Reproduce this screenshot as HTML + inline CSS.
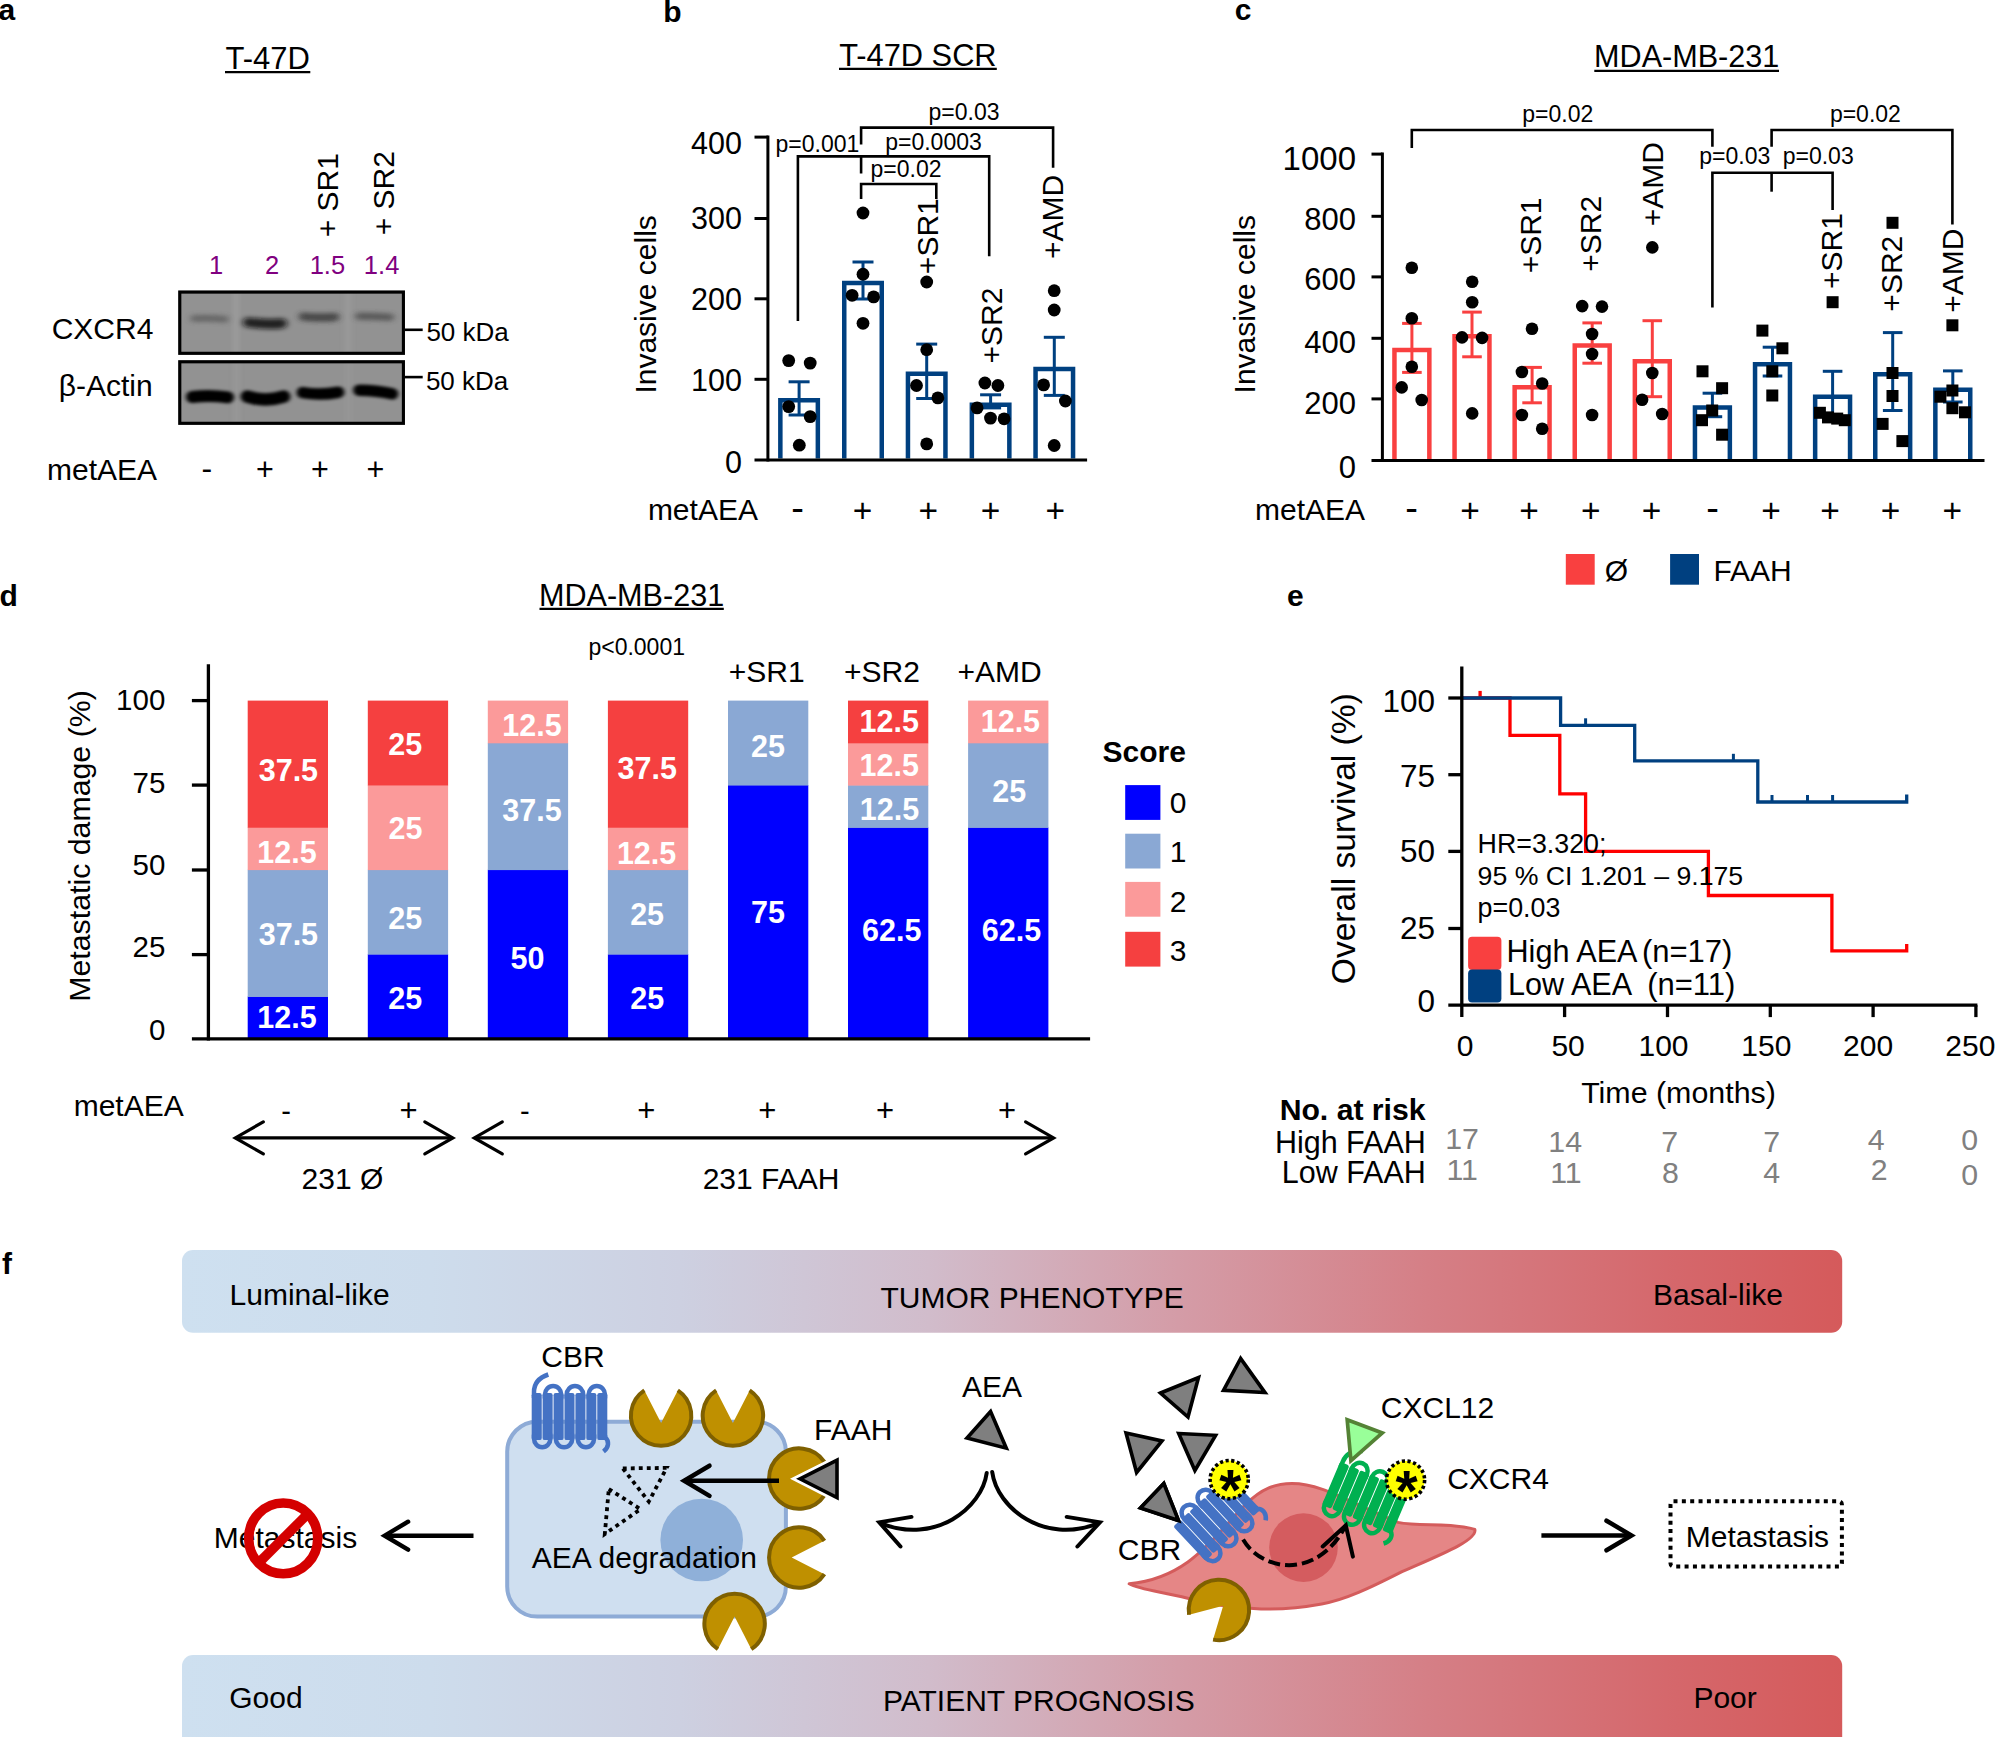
<!DOCTYPE html>
<html lang="en"><head><meta charset="utf-8"><title>Figure</title>
<style>html,body{margin:0;padding:0;background:#fff}svg{display:block}text{font-family:"Liberation Sans",Arial,Helvetica,sans-serif}</style>
</head><body>
<svg width="1995" height="1737" viewBox="0 0 1995 1737">
<defs>
<filter id="bl2" filterUnits="userSpaceOnUse" x="170" y="285" width="250" height="150"><feGaussianBlur stdDeviation="3 2"/></filter>
<filter id="bl3" filterUnits="userSpaceOnUse" x="170" y="285" width="250" height="150"><feGaussianBlur stdDeviation="2.2 1.7"/></filter>
<clipPath id="cb1"><rect x="178.2" y="290.5" width="226.8" height="64.3"/></clipPath><clipPath id="cb2"><rect x="178.2" y="360.2" width="226.8" height="64.6"/></clipPath>
<linearGradient id="gr" x1="0" y1="0" x2="1" y2="0"><stop offset="0" stop-color="#cee0f0"/><stop offset="0.15" stop-color="#cddcec"/><stop offset="0.3" stop-color="#cdd0e1"/><stop offset="0.45" stop-color="#d1bccb"/><stop offset="0.6" stop-color="#d49ca7"/><stop offset="0.75" stop-color="#d57f86"/><stop offset="0.9" stop-color="#d5676b"/><stop offset="1" stop-color="#d55a5b"/></linearGradient>
</defs>
<rect width="1995" height="1737" fill="#fff"/>
<g id="panel-a">
<text x="-1.5" y="20.2" text-anchor="start" font-size="30" font-weight="bold" fill="#000" >a</text>
<text x="267.7" y="69.3" text-anchor="middle" font-size="31" fill="#000" >T-47D</text>
<line x1="225.0" y1="72.1" x2="310.3" y2="72.1" stroke="#000" stroke-width="2.2" stroke-linecap="butt" />
<text transform="translate(337.5,195.2) rotate(-90)" text-anchor="middle" font-size="30" fill="#000" >+ SR1</text>
<text transform="translate(394.2,193.2) rotate(-90)" text-anchor="middle" font-size="30" fill="#000" >+ SR2</text>
<text x="216.0" y="274.0" text-anchor="middle" font-size="25.5" fill="#800080" >1</text>
<text x="272.0" y="274.0" text-anchor="middle" font-size="25.5" fill="#800080" >2</text>
<text x="327.4" y="274.0" text-anchor="middle" font-size="25.5" fill="#800080" >1.5</text>
<text x="381.6" y="274.0" text-anchor="middle" font-size="25.5" fill="#800080" >1.4</text>
<rect x="178.2" y="290.5" width="226.8" height="64.3" fill="#929292" stroke="none" stroke-width="0" rx="0" />
<g clip-path="url(#cb1)">
<rect x="232" y="290.5" width="8" height="64.30000000000001" fill="#a2a2a2" opacity="0.5" filter="url(#bl3)"/>
<rect x="344" y="290.5" width="8" height="64.30000000000001" fill="#a2a2a2" opacity="0.4" filter="url(#bl3)"/>
<path d="M194,318.6 Q209,317.8 225,319.2" fill="none" stroke="#404040" stroke-width="7" stroke-linecap="round" opacity="0.5" filter="url(#bl2)"/>
<path d="M248,322.4 Q266,324.8 282,323.4" fill="none" stroke="#101010" stroke-width="10" stroke-linecap="round" opacity="0.85" filter="url(#bl2)"/>
<path d="M303,316.6 Q319,318.4 335,317" fill="none" stroke="#282828" stroke-width="8.5" stroke-linecap="round" opacity="0.68" filter="url(#bl2)"/>
<path d="M359,316.2 Q375,316.2 390,317.2" fill="none" stroke="#333" stroke-width="7.5" stroke-linecap="round" opacity="0.56" filter="url(#bl2)"/>
</g>
<rect x="179.8" y="292.1" width="223.6" height="61.2" fill="none" stroke="#000" stroke-width="3.1" rx="0" />
<rect x="178.2" y="360.2" width="226.8" height="64.6" fill="#929292" stroke="none" stroke-width="0" rx="0" />
<g clip-path="url(#cb2)">
<rect x="233" y="360.2" width="7" height="64.60000000000002" fill="#a2a2a2" opacity="0.35" filter="url(#bl3)"/>
<rect x="345" y="360.2" width="7" height="64.60000000000002" fill="#a2a2a2" opacity="0.3" filter="url(#bl3)"/>
<path d="M192,397 Q210,394.6 228,397.4" fill="none" stroke="#000" stroke-width="12" stroke-linecap="round" opacity="1" filter="url(#bl3)"/>
<path d="M247,396.5 Q265,402.4 284,396.5" fill="none" stroke="#000" stroke-width="12.6" stroke-linecap="round" opacity="1" filter="url(#bl3)"/>
<path d="M302.5,392.6 Q320,395.6 338.5,392.2" fill="none" stroke="#000" stroke-width="11.6" stroke-linecap="round" opacity="1" filter="url(#bl3)"/>
<path d="M359,390.2 Q377,390.4 392.5,393.8" fill="none" stroke="#000" stroke-width="11.6" stroke-linecap="round" opacity="1" filter="url(#bl3)"/>
</g>
<rect x="179.8" y="361.8" width="223.6" height="61.5" fill="none" stroke="#000" stroke-width="3.1" rx="0" />
<text x="102.5" y="339.4" text-anchor="middle" font-size="30" fill="#000" >CXCR4</text>
<text x="105.7" y="395.8" text-anchor="middle" font-size="30" fill="#000" >β-Actin</text>
<line x1="405.0" y1="329.8" x2="422.7" y2="329.8" stroke="#000" stroke-width="2.6" stroke-linecap="butt" />
<line x1="405.0" y1="377.1" x2="422.7" y2="377.1" stroke="#000" stroke-width="2.6" stroke-linecap="butt" />
<text x="467.6" y="341.0" text-anchor="middle" font-size="26" fill="#000" >50 kDa</text>
<text x="467.1" y="390.2" text-anchor="middle" font-size="26" fill="#000" >50 kDa</text>
<text x="102.1" y="479.7" text-anchor="middle" font-size="30" fill="#000" >metAEA</text>
<text x="206.8" y="478.6" text-anchor="middle" font-size="32" fill="#000" >-</text>
<text x="265.0" y="480.1" text-anchor="middle" font-size="30.5" fill="#000" >+</text>
<text x="320.0" y="480.1" text-anchor="middle" font-size="30.5" fill="#000" >+</text>
<text x="375.5" y="480.1" text-anchor="middle" font-size="30.5" fill="#000" >+</text>
</g>
<g id="panel-b">
<text x="663.2" y="21.6" text-anchor="start" font-size="30" font-weight="bold" fill="#000" >b</text>
<text x="917.9" y="65.5" text-anchor="middle" font-size="30.8" fill="#000" >T-47D SCR</text>
<line x1="839.0" y1="68.8" x2="996.8" y2="68.8" stroke="#000" stroke-width="2.2" stroke-linecap="butt" />
<text transform="translate(656.0,304.4) rotate(-90)" text-anchor="middle" font-size="30" fill="#000" >Invasive cells</text>
<text x="742.0" y="153.6" text-anchor="end" font-size="30.5" fill="#000" >400</text>
<text x="742.0" y="229.3" text-anchor="end" font-size="30.5" fill="#000" >300</text>
<text x="742.0" y="310.0" text-anchor="end" font-size="30.5" fill="#000" >200</text>
<text x="742.0" y="390.8" text-anchor="end" font-size="30.5" fill="#000" >100</text>
<text x="742.0" y="473.2" text-anchor="end" font-size="30.5" fill="#000" >0</text>
<path d="M780.35,458.6 V400.15 H817.85 V458.6" stroke="#004080" stroke-width="4.5" fill="none" />
<path d="M844.25,458.6 V282.95 H881.75 V458.6" stroke="#004080" stroke-width="4.5" fill="none" />
<path d="M907.95,458.6 V373.75 H945.45 V458.6" stroke="#004080" stroke-width="4.5" fill="none" />
<path d="M971.85,458.6 V404.85 H1009.35 V458.6" stroke="#004080" stroke-width="4.5" fill="none" />
<path d="M1035.55,458.6 V369.05 H1073.05 V458.6" stroke="#004080" stroke-width="4.5" fill="none" />
<line x1="799.1" y1="381.8" x2="799.1" y2="415.0" stroke="#004080" stroke-width="3" stroke-linecap="butt" />
<line x1="788.6" y1="381.8" x2="809.6" y2="381.8" stroke="#004080" stroke-width="3" stroke-linecap="butt" />
<line x1="788.6" y1="415.0" x2="809.6" y2="415.0" stroke="#004080" stroke-width="3" stroke-linecap="butt" />
<line x1="863.0" y1="262.0" x2="863.0" y2="299.0" stroke="#004080" stroke-width="3" stroke-linecap="butt" />
<line x1="852.5" y1="262.0" x2="873.5" y2="262.0" stroke="#004080" stroke-width="3" stroke-linecap="butt" />
<line x1="852.5" y1="299.0" x2="873.5" y2="299.0" stroke="#004080" stroke-width="3" stroke-linecap="butt" />
<line x1="926.7" y1="344.1" x2="926.7" y2="398.5" stroke="#004080" stroke-width="3" stroke-linecap="butt" />
<line x1="916.2" y1="344.1" x2="937.2" y2="344.1" stroke="#004080" stroke-width="3" stroke-linecap="butt" />
<line x1="916.2" y1="398.5" x2="937.2" y2="398.5" stroke="#004080" stroke-width="3" stroke-linecap="butt" />
<line x1="990.6" y1="394.8" x2="990.6" y2="407.9" stroke="#004080" stroke-width="3" stroke-linecap="butt" />
<line x1="980.1" y1="394.8" x2="1001.1" y2="394.8" stroke="#004080" stroke-width="3" stroke-linecap="butt" />
<line x1="980.1" y1="407.9" x2="1001.1" y2="407.9" stroke="#004080" stroke-width="3" stroke-linecap="butt" />
<line x1="1054.3" y1="337.3" x2="1054.3" y2="395.4" stroke="#004080" stroke-width="3" stroke-linecap="butt" />
<line x1="1043.8" y1="337.3" x2="1064.8" y2="337.3" stroke="#004080" stroke-width="3" stroke-linecap="butt" />
<line x1="1043.8" y1="395.4" x2="1064.8" y2="395.4" stroke="#004080" stroke-width="3" stroke-linecap="butt" />
<line x1="767.9" y1="135.6" x2="767.9" y2="461.5" stroke="#000" stroke-width="3" stroke-linecap="butt" />
<line x1="754.5" y1="460.0" x2="1087.1" y2="460.0" stroke="#000" stroke-width="3" stroke-linecap="butt" />
<line x1="754.5" y1="137.1" x2="767.9" y2="137.1" stroke="#000" stroke-width="3" stroke-linecap="butt" />
<line x1="754.5" y1="218.5" x2="767.9" y2="218.5" stroke="#000" stroke-width="3" stroke-linecap="butt" />
<line x1="754.5" y1="298.8" x2="767.9" y2="298.8" stroke="#000" stroke-width="3" stroke-linecap="butt" />
<line x1="754.5" y1="379.3" x2="767.9" y2="379.3" stroke="#000" stroke-width="3" stroke-linecap="butt" />
<circle cx="788.7" cy="360.6" r="6.4" fill="#000" stroke="none" stroke-width="0" />
<circle cx="810.2" cy="363.1" r="6.4" fill="#000" stroke="none" stroke-width="0" />
<circle cx="788.7" cy="406.6" r="6.4" fill="#000" stroke="none" stroke-width="0" />
<circle cx="810.2" cy="416.6" r="6.4" fill="#000" stroke="none" stroke-width="0" />
<circle cx="799.3" cy="445.2" r="6.4" fill="#000" stroke="none" stroke-width="0" />
<circle cx="863.0" cy="213.0" r="6.4" fill="#000" stroke="none" stroke-width="0" />
<circle cx="863.0" cy="274.2" r="6.4" fill="#000" stroke="none" stroke-width="0" />
<circle cx="852.1" cy="295.3" r="6.4" fill="#000" stroke="none" stroke-width="0" />
<circle cx="873.6" cy="296.9" r="6.4" fill="#000" stroke="none" stroke-width="0" />
<circle cx="863.0" cy="323.3" r="6.4" fill="#000" stroke="none" stroke-width="0" />
<circle cx="926.7" cy="282.0" r="6.4" fill="#000" stroke="none" stroke-width="0" />
<circle cx="926.7" cy="349.7" r="6.4" fill="#000" stroke="none" stroke-width="0" />
<circle cx="916.5" cy="385.5" r="6.4" fill="#000" stroke="none" stroke-width="0" />
<circle cx="937.9" cy="397.9" r="6.4" fill="#000" stroke="none" stroke-width="0" />
<circle cx="926.7" cy="443.9" r="6.4" fill="#000" stroke="none" stroke-width="0" />
<circle cx="984.9" cy="383.0" r="6.4" fill="#000" stroke="none" stroke-width="0" />
<circle cx="997.9" cy="385.5" r="6.4" fill="#000" stroke="none" stroke-width="0" />
<circle cx="977.1" cy="407.9" r="6.4" fill="#000" stroke="none" stroke-width="0" />
<circle cx="990.5" cy="418.1" r="6.4" fill="#000" stroke="none" stroke-width="0" />
<circle cx="1004.1" cy="418.8" r="6.4" fill="#000" stroke="none" stroke-width="0" />
<circle cx="1054.2" cy="290.7" r="6.4" fill="#000" stroke="none" stroke-width="0" />
<circle cx="1054.2" cy="310.0" r="6.4" fill="#000" stroke="none" stroke-width="0" />
<circle cx="1043.6" cy="384.9" r="6.4" fill="#000" stroke="none" stroke-width="0" />
<circle cx="1065.4" cy="401.0" r="6.4" fill="#000" stroke="none" stroke-width="0" />
<circle cx="1054.2" cy="445.5" r="6.4" fill="#000" stroke="none" stroke-width="0" />
<path d="M861.1,144.6 V127.6 H1053.1 V167.7" stroke="#000" stroke-width="2.6" fill="none" />
<path d="M797.9,321 V156.4 H989.2 V256.2" stroke="#000" stroke-width="2.6" fill="none" />
<path d="M861.1,156.4 V173.5" stroke="#000" stroke-width="2.6" fill="none" />
<path d="M861.1,199 V184 H936.3 V199" stroke="#000" stroke-width="2.6" fill="none" />
<text x="964.0" y="119.6" text-anchor="middle" font-size="23" fill="#000" >p=0.03</text>
<text x="817.4" y="152.2" text-anchor="middle" font-size="23" fill="#000" >p=0.001</text>
<text x="933.5" y="149.6" text-anchor="middle" font-size="23" fill="#000" >p=0.0003</text>
<text x="906.0" y="176.5" text-anchor="middle" font-size="23" fill="#000" >p=0.02</text>
<text transform="translate(938.3,236.2) rotate(-90)" text-anchor="middle" font-size="30" fill="#000" >+SR1</text>
<text transform="translate(1001.5,325.6) rotate(-90)" text-anchor="middle" font-size="30" fill="#000" >+SR2</text>
<text transform="translate(1063.1,216.9) rotate(-90)" text-anchor="middle" font-size="30" fill="#000" >+AMD</text>
<text x="702.9" y="519.8" text-anchor="middle" font-size="30" fill="#000" >metAEA</text>
<text x="797.5" y="520.6" text-anchor="middle" font-size="38" fill="#000" >-</text>
<text x="862.5" y="521.7" text-anchor="middle" font-size="33.5" fill="#000" >+</text>
<text x="928.3" y="521.7" text-anchor="middle" font-size="33.5" fill="#000" >+</text>
<text x="990.6" y="521.7" text-anchor="middle" font-size="33.5" fill="#000" >+</text>
<text x="1055.2" y="521.7" text-anchor="middle" font-size="33.5" fill="#000" >+</text>
</g>
<g id="panel-c">
<text x="1234.7" y="20.0" text-anchor="start" font-size="30" font-weight="bold" fill="#000" >c</text>
<text x="1686.7" y="67.2" text-anchor="middle" font-size="30.6" fill="#000" >MDA-MB-231</text>
<line x1="1594.3" y1="70.9" x2="1779.0" y2="70.9" stroke="#000" stroke-width="2.2" stroke-linecap="butt" />
<text transform="translate(1255.3,304.2) rotate(-90)" text-anchor="middle" font-size="30" fill="#000" >Invasive cells</text>
<text x="1356.0" y="170.1" text-anchor="end" font-size="33" fill="#000" >1000</text>
<text x="1356.0" y="230.2" text-anchor="end" font-size="31" fill="#000" >800</text>
<text x="1356.0" y="289.6" text-anchor="end" font-size="31" fill="#000" >600</text>
<text x="1356.0" y="352.8" text-anchor="end" font-size="31" fill="#000" >400</text>
<text x="1356.0" y="414.0" text-anchor="end" font-size="31" fill="#000" >200</text>
<text x="1356.0" y="477.6" text-anchor="end" font-size="31" fill="#000" >0</text>
<path d="M1394.45,459.0 V350.05 H1429.35 V459.0" stroke="#f94040" stroke-width="4.5" fill="none" />
<path d="M1454.55,459.0 V336.25 H1489.45 V459.0" stroke="#f94040" stroke-width="4.5" fill="none" />
<path d="M1514.65,459.0 V387.35 H1549.55 V459.0" stroke="#f94040" stroke-width="4.5" fill="none" />
<path d="M1574.75,459.0 V345.45 H1609.65 V459.0" stroke="#f94040" stroke-width="4.5" fill="none" />
<path d="M1634.85,459.0 V361.35 H1669.75 V459.0" stroke="#f94040" stroke-width="4.5" fill="none" />
<path d="M1694.95,459.0 V407.45 H1729.85 V459.0" stroke="#004080" stroke-width="4.5" fill="none" />
<path d="M1755.05,459.0 V364.35 H1789.95 V459.0" stroke="#004080" stroke-width="4.5" fill="none" />
<path d="M1815.15,459.0 V396.65 H1850.05 V459.0" stroke="#004080" stroke-width="4.5" fill="none" />
<path d="M1875.25,459.0 V374.25 H1910.15 V459.0" stroke="#004080" stroke-width="4.5" fill="none" />
<path d="M1935.35,459.0 V389.75 H1970.25 V459.0" stroke="#004080" stroke-width="4.5" fill="none" />
<line x1="1411.9" y1="323.4" x2="1411.9" y2="372.4" stroke="#f94040" stroke-width="3" stroke-linecap="butt" />
<line x1="1402.1" y1="323.4" x2="1421.7" y2="323.4" stroke="#f94040" stroke-width="3" stroke-linecap="butt" />
<line x1="1402.1" y1="372.4" x2="1421.7" y2="372.4" stroke="#f94040" stroke-width="3" stroke-linecap="butt" />
<line x1="1472.0" y1="312.1" x2="1472.0" y2="356.8" stroke="#f94040" stroke-width="3" stroke-linecap="butt" />
<line x1="1462.2" y1="312.1" x2="1481.8" y2="312.1" stroke="#f94040" stroke-width="3" stroke-linecap="butt" />
<line x1="1462.2" y1="356.8" x2="1481.8" y2="356.8" stroke="#f94040" stroke-width="3" stroke-linecap="butt" />
<line x1="1532.1" y1="367.4" x2="1532.1" y2="402.8" stroke="#f94040" stroke-width="3" stroke-linecap="butt" />
<line x1="1522.3" y1="367.4" x2="1541.9" y2="367.4" stroke="#f94040" stroke-width="3" stroke-linecap="butt" />
<line x1="1522.3" y1="402.8" x2="1541.9" y2="402.8" stroke="#f94040" stroke-width="3" stroke-linecap="butt" />
<line x1="1592.2" y1="322.9" x2="1592.2" y2="363.2" stroke="#f94040" stroke-width="3" stroke-linecap="butt" />
<line x1="1582.4" y1="322.9" x2="1602.0" y2="322.9" stroke="#f94040" stroke-width="3" stroke-linecap="butt" />
<line x1="1582.4" y1="363.2" x2="1602.0" y2="363.2" stroke="#f94040" stroke-width="3" stroke-linecap="butt" />
<line x1="1652.3" y1="320.7" x2="1652.3" y2="396.7" stroke="#f94040" stroke-width="3" stroke-linecap="butt" />
<line x1="1642.5" y1="320.7" x2="1662.1" y2="320.7" stroke="#f94040" stroke-width="3" stroke-linecap="butt" />
<line x1="1642.5" y1="396.7" x2="1662.1" y2="396.7" stroke="#f94040" stroke-width="3" stroke-linecap="butt" />
<line x1="1712.4" y1="393.2" x2="1712.4" y2="416.7" stroke="#004080" stroke-width="3" stroke-linecap="butt" />
<line x1="1702.6" y1="393.2" x2="1722.2" y2="393.2" stroke="#004080" stroke-width="3" stroke-linecap="butt" />
<line x1="1702.6" y1="416.7" x2="1722.2" y2="416.7" stroke="#004080" stroke-width="3" stroke-linecap="butt" />
<line x1="1772.5" y1="347.2" x2="1772.5" y2="376.0" stroke="#004080" stroke-width="3" stroke-linecap="butt" />
<line x1="1762.7" y1="347.2" x2="1782.3" y2="347.2" stroke="#004080" stroke-width="3" stroke-linecap="butt" />
<line x1="1762.7" y1="376.0" x2="1782.3" y2="376.0" stroke="#004080" stroke-width="3" stroke-linecap="butt" />
<line x1="1832.6" y1="371.3" x2="1832.6" y2="416.7" stroke="#004080" stroke-width="3" stroke-linecap="butt" />
<line x1="1822.8" y1="371.3" x2="1842.4" y2="371.3" stroke="#004080" stroke-width="3" stroke-linecap="butt" />
<line x1="1822.8" y1="416.7" x2="1842.4" y2="416.7" stroke="#004080" stroke-width="3" stroke-linecap="butt" />
<line x1="1892.7" y1="332.6" x2="1892.7" y2="410.5" stroke="#004080" stroke-width="3" stroke-linecap="butt" />
<line x1="1882.9" y1="332.6" x2="1902.5" y2="332.6" stroke="#004080" stroke-width="3" stroke-linecap="butt" />
<line x1="1882.9" y1="410.5" x2="1902.5" y2="410.5" stroke="#004080" stroke-width="3" stroke-linecap="butt" />
<line x1="1952.8" y1="370.9" x2="1952.8" y2="402.0" stroke="#004080" stroke-width="3" stroke-linecap="butt" />
<line x1="1943.0" y1="370.9" x2="1962.6" y2="370.9" stroke="#004080" stroke-width="3" stroke-linecap="butt" />
<line x1="1943.0" y1="402.0" x2="1962.6" y2="402.0" stroke="#004080" stroke-width="3" stroke-linecap="butt" />
<line x1="1382.4" y1="152.6" x2="1382.4" y2="461.9" stroke="#000" stroke-width="3" stroke-linecap="butt" />
<line x1="1371.5" y1="460.4" x2="1984.5" y2="460.4" stroke="#000" stroke-width="3" stroke-linecap="butt" />
<line x1="1371.5" y1="154.1" x2="1382.4" y2="154.1" stroke="#000" stroke-width="3" stroke-linecap="butt" />
<line x1="1371.5" y1="216.3" x2="1382.4" y2="216.3" stroke="#000" stroke-width="3" stroke-linecap="butt" />
<line x1="1371.5" y1="276.9" x2="1382.4" y2="276.9" stroke="#000" stroke-width="3" stroke-linecap="butt" />
<line x1="1371.5" y1="338.3" x2="1382.4" y2="338.3" stroke="#000" stroke-width="3" stroke-linecap="butt" />
<line x1="1371.5" y1="398.9" x2="1382.4" y2="398.9" stroke="#000" stroke-width="3" stroke-linecap="butt" />
<circle cx="1411.8" cy="267.7" r="6.3" fill="#000" stroke="none" stroke-width="0" />
<circle cx="1411.8" cy="318.3" r="6.3" fill="#000" stroke="none" stroke-width="0" />
<circle cx="1411.8" cy="366.7" r="6.3" fill="#000" stroke="none" stroke-width="0" />
<circle cx="1401.7" cy="387.4" r="6.3" fill="#000" stroke="none" stroke-width="0" />
<circle cx="1421.7" cy="400.0" r="6.3" fill="#000" stroke="none" stroke-width="0" />
<circle cx="1472.2" cy="281.7" r="6.3" fill="#000" stroke="none" stroke-width="0" />
<circle cx="1472.2" cy="302.2" r="6.3" fill="#000" stroke="none" stroke-width="0" />
<circle cx="1462.0" cy="337.4" r="6.3" fill="#000" stroke="none" stroke-width="0" />
<circle cx="1482.1" cy="337.9" r="6.3" fill="#000" stroke="none" stroke-width="0" />
<circle cx="1472.2" cy="413.4" r="6.3" fill="#000" stroke="none" stroke-width="0" />
<circle cx="1532.0" cy="328.7" r="6.3" fill="#000" stroke="none" stroke-width="0" />
<circle cx="1521.9" cy="372.0" r="6.3" fill="#000" stroke="none" stroke-width="0" />
<circle cx="1542.2" cy="383.5" r="6.3" fill="#000" stroke="none" stroke-width="0" />
<circle cx="1521.9" cy="415.0" r="6.3" fill="#000" stroke="none" stroke-width="0" />
<circle cx="1542.2" cy="428.8" r="6.3" fill="#000" stroke="none" stroke-width="0" />
<circle cx="1582.2" cy="306.1" r="6.3" fill="#000" stroke="none" stroke-width="0" />
<circle cx="1602.0" cy="306.6" r="6.3" fill="#000" stroke="none" stroke-width="0" />
<circle cx="1592.1" cy="334.0" r="6.3" fill="#000" stroke="none" stroke-width="0" />
<circle cx="1592.1" cy="354.0" r="6.3" fill="#000" stroke="none" stroke-width="0" />
<circle cx="1592.1" cy="415.0" r="6.3" fill="#000" stroke="none" stroke-width="0" />
<circle cx="1652.3" cy="247.4" r="6.3" fill="#000" stroke="none" stroke-width="0" />
<circle cx="1652.3" cy="373.0" r="6.3" fill="#000" stroke="none" stroke-width="0" />
<circle cx="1642.1" cy="399.7" r="6.3" fill="#000" stroke="none" stroke-width="0" />
<circle cx="1662.2" cy="414.0" r="6.3" fill="#000" stroke="none" stroke-width="0" />
<rect x="1696.5" y="365.3" width="12.0" height="12.0" fill="#000" stroke="none" stroke-width="0" rx="0" />
<rect x="1716.1" y="382.2" width="12.0" height="12.0" fill="#000" stroke="none" stroke-width="0" rx="0" />
<rect x="1706.2" y="404.5" width="12.0" height="12.0" fill="#000" stroke="none" stroke-width="0" rx="0" />
<rect x="1696.0" y="414.2" width="12.0" height="12.0" fill="#000" stroke="none" stroke-width="0" rx="0" />
<rect x="1716.1" y="428.7" width="12.0" height="12.0" fill="#000" stroke="none" stroke-width="0" rx="0" />
<rect x="1756.4" y="324.6" width="12.0" height="12.0" fill="#000" stroke="none" stroke-width="0" rx="0" />
<rect x="1776.4" y="342.3" width="12.0" height="12.0" fill="#000" stroke="none" stroke-width="0" rx="0" />
<rect x="1766.3" y="365.3" width="12.0" height="12.0" fill="#000" stroke="none" stroke-width="0" rx="0" />
<rect x="1766.3" y="389.5" width="12.0" height="12.0" fill="#000" stroke="none" stroke-width="0" rx="0" />
<rect x="1826.6" y="296.2" width="12.0" height="12.0" fill="#000" stroke="none" stroke-width="0" rx="0" />
<rect x="1813.9" y="406.8" width="12.0" height="12.0" fill="#000" stroke="none" stroke-width="0" rx="0" />
<rect x="1822.0" y="411.4" width="12.0" height="12.0" fill="#000" stroke="none" stroke-width="0" rx="0" />
<rect x="1831.2" y="412.6" width="12.0" height="12.0" fill="#000" stroke="none" stroke-width="0" rx="0" />
<rect x="1838.8" y="414.2" width="12.0" height="12.0" fill="#000" stroke="none" stroke-width="0" rx="0" />
<rect x="1886.5" y="216.8" width="12.0" height="12.0" fill="#000" stroke="none" stroke-width="0" rx="0" />
<rect x="1886.5" y="367.0" width="12.0" height="12.0" fill="#000" stroke="none" stroke-width="0" rx="0" />
<rect x="1886.5" y="390.0" width="12.0" height="12.0" fill="#000" stroke="none" stroke-width="0" rx="0" />
<rect x="1876.6" y="417.9" width="12.0" height="12.0" fill="#000" stroke="none" stroke-width="0" rx="0" />
<rect x="1896.4" y="435.1" width="12.0" height="12.0" fill="#000" stroke="none" stroke-width="0" rx="0" />
<rect x="1946.4" y="319.3" width="12.0" height="12.0" fill="#000" stroke="none" stroke-width="0" rx="0" />
<rect x="1946.4" y="384.5" width="12.0" height="12.0" fill="#000" stroke="none" stroke-width="0" rx="0" />
<rect x="1934.4" y="390.7" width="12.0" height="12.0" fill="#000" stroke="none" stroke-width="0" rx="0" />
<rect x="1946.4" y="402.2" width="12.0" height="12.0" fill="#000" stroke="none" stroke-width="0" rx="0" />
<rect x="1959.0" y="406.3" width="12.0" height="12.0" fill="#000" stroke="none" stroke-width="0" rx="0" />
<path d="M1411.8,147.9 V130 H1712.4 V146.8" stroke="#000" stroke-width="2.6" fill="none" />
<path d="M1771.6,146.8 V130 H1952.4 V224.6" stroke="#000" stroke-width="2.6" fill="none" />
<path d="M1712.4,307.5 V172.8 H1832.6 V210.1" stroke="#000" stroke-width="2.6" fill="none" />
<path d="M1771.6,172.8 V191.7" stroke="#000" stroke-width="2.6" fill="none" />
<text x="1557.8" y="121.6" text-anchor="middle" font-size="23" fill="#000" >p=0.02</text>
<text x="1865.4" y="121.8" text-anchor="middle" font-size="23" fill="#000" >p=0.02</text>
<text x="1734.8" y="164.3" text-anchor="middle" font-size="23" fill="#000" >p=0.03</text>
<text x="1818.2" y="164.3" text-anchor="middle" font-size="23" fill="#000" >p=0.03</text>
<text transform="translate(1540.8,235.4) rotate(-90)" text-anchor="middle" font-size="30" fill="#000" >+SR1</text>
<text transform="translate(1601.1,233.8) rotate(-90)" text-anchor="middle" font-size="30" fill="#000" >+SR2</text>
<text transform="translate(1662.6,184.2) rotate(-90)" text-anchor="middle" font-size="30" fill="#000" >+AMD</text>
<text transform="translate(1841.8,251.0) rotate(-90)" text-anchor="middle" font-size="30" fill="#000" >+SR1</text>
<text transform="translate(1902.2,273.7) rotate(-90)" text-anchor="middle" font-size="30" fill="#000" >+SR2</text>
<text transform="translate(1962.7,270.6) rotate(-90)" text-anchor="middle" font-size="30" fill="#000" >+AMD</text>
<text x="1310.0" y="520.1" text-anchor="middle" font-size="30" fill="#000" >metAEA</text>
<text x="1411.5" y="521.2" text-anchor="middle" font-size="38" fill="#000" >-</text>
<text x="1470.1" y="521.6" text-anchor="middle" font-size="33.5" fill="#000" >+</text>
<text x="1529.1" y="521.6" text-anchor="middle" font-size="33.5" fill="#000" >+</text>
<text x="1590.9" y="521.6" text-anchor="middle" font-size="33.5" fill="#000" >+</text>
<text x="1651.5" y="521.6" text-anchor="middle" font-size="33.5" fill="#000" >+</text>
<text x="1712.5" y="521.2" text-anchor="middle" font-size="38" fill="#000" >-</text>
<text x="1771.0" y="521.6" text-anchor="middle" font-size="33.5" fill="#000" >+</text>
<text x="1830.0" y="521.6" text-anchor="middle" font-size="33.5" fill="#000" >+</text>
<text x="1890.6" y="521.6" text-anchor="middle" font-size="33.5" fill="#000" >+</text>
<text x="1952.4" y="521.6" text-anchor="middle" font-size="33.5" fill="#000" >+</text>
<rect x="1565.8" y="554.0" width="28.9" height="30.7" fill="#f94040" stroke="none" stroke-width="0" rx="0" />
<rect x="1670.1" y="554.0" width="28.9" height="30.7" fill="#004080" stroke="none" stroke-width="0" rx="0" />
<text x="1616.3" y="580.7" text-anchor="middle" font-size="30" fill="#000" >Ø</text>
<text x="1752.6" y="580.8" text-anchor="middle" font-size="30" fill="#000" >FAAH</text>
</g>
<g id="panel-d">
<text x="-0.5" y="605.5" text-anchor="start" font-size="30" font-weight="bold" fill="#000" >d</text>
<text x="631.6" y="605.6" text-anchor="middle" font-size="30.6" fill="#000" >MDA-MB-231</text>
<line x1="539.5" y1="608.9" x2="723.8" y2="608.9" stroke="#000" stroke-width="2.2" stroke-linecap="butt" />
<text x="636.7" y="655.3" text-anchor="middle" font-size="23" fill="#000" >p&lt;0.0001</text>
<text transform="translate(89.8,846.0) rotate(-90)" text-anchor="middle" font-size="30.3" fill="#000" >Metastatic damage (%)</text>
<rect x="247.7" y="996.5" width="80.3" height="42.7" fill="#0000ff" stroke="none" stroke-width="0" rx="0" />
<rect x="247.7" y="869.7" width="80.3" height="127.2" fill="#8aa8d4" stroke="none" stroke-width="0" rx="0" />
<rect x="247.7" y="827.4" width="80.3" height="42.7" fill="#fb9a9a" stroke="none" stroke-width="0" rx="0" />
<rect x="247.7" y="700.6" width="80.3" height="127.2" fill="#f54040" stroke="none" stroke-width="0" rx="0" />
<rect x="367.8" y="954.2" width="80.3" height="84.9" fill="#0000ff" stroke="none" stroke-width="0" rx="0" />
<rect x="367.8" y="869.7" width="80.3" height="84.9" fill="#8aa8d4" stroke="none" stroke-width="0" rx="0" />
<rect x="367.8" y="785.1" width="80.3" height="85.0" fill="#fb9a9a" stroke="none" stroke-width="0" rx="0" />
<rect x="367.8" y="700.6" width="80.3" height="84.9" fill="#f54040" stroke="none" stroke-width="0" rx="0" />
<rect x="487.8" y="869.7" width="80.3" height="169.5" fill="#0000ff" stroke="none" stroke-width="0" rx="0" />
<rect x="487.8" y="742.9" width="80.3" height="127.2" fill="#8aa8d4" stroke="none" stroke-width="0" rx="0" />
<rect x="487.8" y="700.6" width="80.3" height="42.7" fill="#fb9a9a" stroke="none" stroke-width="0" rx="0" />
<rect x="607.9" y="954.2" width="80.3" height="84.9" fill="#0000ff" stroke="none" stroke-width="0" rx="0" />
<rect x="607.9" y="869.7" width="80.3" height="84.9" fill="#8aa8d4" stroke="none" stroke-width="0" rx="0" />
<rect x="607.9" y="827.4" width="80.3" height="42.7" fill="#fb9a9a" stroke="none" stroke-width="0" rx="0" />
<rect x="607.9" y="700.6" width="80.3" height="127.2" fill="#f54040" stroke="none" stroke-width="0" rx="0" />
<rect x="728.0" y="785.1" width="80.3" height="254.0" fill="#0000ff" stroke="none" stroke-width="0" rx="0" />
<rect x="728.0" y="700.6" width="80.3" height="84.9" fill="#8aa8d4" stroke="none" stroke-width="0" rx="0" />
<rect x="848.0" y="827.4" width="80.3" height="211.8" fill="#0000ff" stroke="none" stroke-width="0" rx="0" />
<rect x="848.0" y="785.1" width="80.3" height="42.7" fill="#8aa8d4" stroke="none" stroke-width="0" rx="0" />
<rect x="848.0" y="742.9" width="80.3" height="42.7" fill="#fb9a9a" stroke="none" stroke-width="0" rx="0" />
<rect x="848.0" y="700.6" width="80.3" height="42.7" fill="#f54040" stroke="none" stroke-width="0" rx="0" />
<rect x="968.1" y="827.4" width="80.3" height="211.8" fill="#0000ff" stroke="none" stroke-width="0" rx="0" />
<rect x="968.1" y="742.9" width="80.3" height="84.9" fill="#8aa8d4" stroke="none" stroke-width="0" rx="0" />
<rect x="968.1" y="700.6" width="80.3" height="42.7" fill="#fb9a9a" stroke="none" stroke-width="0" rx="0" />
<line x1="208.4" y1="664.2" x2="208.4" y2="1040.4" stroke="#000" stroke-width="3.3" stroke-linecap="butt" />
<line x1="191.9" y1="1038.8" x2="1090.1" y2="1038.8" stroke="#000" stroke-width="3.3" stroke-linecap="butt" />
<line x1="191.9" y1="700.6" x2="208.4" y2="700.6" stroke="#000" stroke-width="3.3" stroke-linecap="butt" />
<line x1="191.9" y1="785.1" x2="208.4" y2="785.1" stroke="#000" stroke-width="3.3" stroke-linecap="butt" />
<line x1="191.9" y1="870.0" x2="208.4" y2="870.0" stroke="#000" stroke-width="3.3" stroke-linecap="butt" />
<line x1="191.9" y1="954.6" x2="208.4" y2="954.6" stroke="#000" stroke-width="3.3" stroke-linecap="butt" />
<text x="165.3" y="709.5" text-anchor="end" font-size="29.5" fill="#000" >100</text>
<text x="165.3" y="793.3" text-anchor="end" font-size="29.5" fill="#000" >75</text>
<text x="165.3" y="874.9" text-anchor="end" font-size="29.5" fill="#000" >50</text>
<text x="165.3" y="957.2" text-anchor="end" font-size="29.5" fill="#000" >25</text>
<text x="165.3" y="1039.5" text-anchor="end" font-size="29.5" fill="#000" >0</text>
<text x="288.4" y="780.5" text-anchor="middle" font-size="30.5" font-weight="bold" fill="#fff" >37.5</text>
<text x="287.0" y="862.8" text-anchor="middle" font-size="30.5" font-weight="bold" fill="#fff" >12.5</text>
<text x="288.4" y="945.1" text-anchor="middle" font-size="30.5" font-weight="bold" fill="#fff" >37.5</text>
<text x="287.0" y="1028.2" text-anchor="middle" font-size="30.5" font-weight="bold" fill="#fff" >12.5</text>
<text x="405.2" y="755.4" text-anchor="middle" font-size="30.5" font-weight="bold" fill="#fff" >25</text>
<text x="405.4" y="839.2" text-anchor="middle" font-size="30.5" font-weight="bold" fill="#fff" >25</text>
<text x="405.2" y="929.0" text-anchor="middle" font-size="30.5" font-weight="bold" fill="#fff" >25</text>
<text x="405.2" y="1008.7" text-anchor="middle" font-size="30.5" font-weight="bold" fill="#fff" >25</text>
<text x="532.0" y="735.6" text-anchor="middle" font-size="30.5" font-weight="bold" fill="#fff" >12.5</text>
<text x="532.0" y="820.5" text-anchor="middle" font-size="30.5" font-weight="bold" fill="#fff" >37.5</text>
<text x="527.5" y="968.7" text-anchor="middle" font-size="30.5" font-weight="bold" fill="#fff" >50</text>
<text x="647.3" y="778.6" text-anchor="middle" font-size="30.5" font-weight="bold" fill="#fff" >37.5</text>
<text x="646.6" y="863.6" text-anchor="middle" font-size="30.5" font-weight="bold" fill="#fff" >12.5</text>
<text x="647.1" y="925.3" text-anchor="middle" font-size="30.5" font-weight="bold" fill="#fff" >25</text>
<text x="647.3" y="1008.7" text-anchor="middle" font-size="30.5" font-weight="bold" fill="#fff" >25</text>
<text x="768.0" y="757.3" text-anchor="middle" font-size="30.5" font-weight="bold" fill="#fff" >25</text>
<text x="768.0" y="922.7" text-anchor="middle" font-size="30.5" font-weight="bold" fill="#fff" >75</text>
<text x="889.2" y="731.9" text-anchor="middle" font-size="30.5" font-weight="bold" fill="#fff" >12.5</text>
<text x="889.2" y="776.0" text-anchor="middle" font-size="30.5" font-weight="bold" fill="#fff" >12.5</text>
<text x="889.5" y="819.8" text-anchor="middle" font-size="30.5" font-weight="bold" fill="#fff" >12.5</text>
<text x="891.8" y="940.6" text-anchor="middle" font-size="30.5" font-weight="bold" fill="#fff" >62.5</text>
<text x="1010.4" y="731.9" text-anchor="middle" font-size="30.5" font-weight="bold" fill="#fff" >12.5</text>
<text x="1009.3" y="802.2" text-anchor="middle" font-size="30.5" font-weight="bold" fill="#fff" >25</text>
<text x="1011.5" y="940.6" text-anchor="middle" font-size="30.5" font-weight="bold" fill="#fff" >62.5</text>
<text x="766.7" y="681.5" text-anchor="middle" font-size="30" fill="#000" >+SR1</text>
<text x="882.0" y="681.5" text-anchor="middle" font-size="30" fill="#000" >+SR2</text>
<text x="999.5" y="681.5" text-anchor="middle" font-size="30" fill="#000" >+AMD</text>
<text x="1144.3" y="761.9" text-anchor="middle" font-size="30" font-weight="bold" fill="#000" >Score</text>
<rect x="1125.2" y="785.1" width="35.2" height="34.8" fill="#0000ff" stroke="none" stroke-width="0" rx="0" />
<text x="1178.0" y="813.2" text-anchor="middle" font-size="30" fill="#000" >0</text>
<rect x="1125.2" y="833.7" width="35.2" height="34.8" fill="#8aa8d4" stroke="none" stroke-width="0" rx="0" />
<text x="1178.0" y="861.8" text-anchor="middle" font-size="30" fill="#000" >1</text>
<rect x="1125.2" y="881.9" width="35.2" height="34.8" fill="#fb9a9a" stroke="none" stroke-width="0" rx="0" />
<text x="1178.0" y="912.3" text-anchor="middle" font-size="30" fill="#000" >2</text>
<rect x="1125.2" y="931.8" width="35.2" height="34.8" fill="#f54040" stroke="none" stroke-width="0" rx="0" />
<text x="1178.0" y="960.9" text-anchor="middle" font-size="30" fill="#000" >3</text>
<text x="128.7" y="1116.4" text-anchor="middle" font-size="30" fill="#000" >metAEA</text>
<text x="286.2" y="1121.1" text-anchor="middle" font-size="29" fill="#000" >-</text>
<text x="408.5" y="1120.7" text-anchor="middle" font-size="31" fill="#000" >+</text>
<text x="524.9" y="1121.1" text-anchor="middle" font-size="29" fill="#000" >-</text>
<text x="646.3" y="1120.7" text-anchor="middle" font-size="31" fill="#000" >+</text>
<text x="767.2" y="1120.7" text-anchor="middle" font-size="31" fill="#000" >+</text>
<text x="885.1" y="1120.7" text-anchor="middle" font-size="31" fill="#000" >+</text>
<text x="1007.0" y="1120.7" text-anchor="middle" font-size="31" fill="#000" >+</text>
<line x1="237.0" y1="1137.9" x2="451.0" y2="1137.9" stroke="#000" stroke-width="3.2" stroke-linecap="butt" />
<path d="M263.3,1121.9 L235.3,1137.9 L263.3,1153.9" stroke="#000" stroke-width="3.2" fill="none" stroke-linejoin="miter" stroke-linecap="round"/>
<path d="M424.8,1121.9 L452.8,1137.9 L424.8,1153.9" stroke="#000" stroke-width="3.2" fill="none" stroke-linejoin="miter" stroke-linecap="round"/>
<line x1="476.0" y1="1137.9" x2="1052.0" y2="1137.9" stroke="#000" stroke-width="3.2" stroke-linecap="butt" />
<path d="M502.3,1121.9 L474.3,1137.9 L502.3,1153.9" stroke="#000" stroke-width="3.2" fill="none" stroke-linejoin="miter" stroke-linecap="round"/>
<path d="M1025.6,1121.9 L1053.6,1137.9 L1025.6,1153.9" stroke="#000" stroke-width="3.2" fill="none" stroke-linejoin="miter" stroke-linecap="round"/>
<text x="342.4" y="1189.4" text-anchor="middle" font-size="30" fill="#000" >231 Ø</text>
<text x="771.0" y="1189.4" text-anchor="middle" font-size="30" fill="#000" >231 FAAH</text>
</g>
<g id="panel-e">
<text x="1287.0" y="605.5" text-anchor="start" font-size="30" font-weight="bold" fill="#000" >e</text>
<text transform="translate(1354.8,838.7) rotate(-90)" text-anchor="middle" font-size="33.6" fill="#000" >Overall survival (%)</text>
<path d="M1480.1,698 V690.9" stroke="#ff0000" stroke-width="3.3" fill="none" />
<path d="M1461.8,698 H1510 V735.4 H1559.8 V793.8 H1585.6 V851.4 H1708.4 V895.5 H1831.9 V950.9 H1906.7 V944" stroke="#ff0000" stroke-width="3.3" fill="none" stroke-linejoin="miter"/>
<path d="M1461.8,698 H1560.6 V725.3 H1634.7 V760.8 H1757.8 V802 H1906.7 V794.5" stroke="#004080" stroke-width="3.3" fill="none" stroke-linejoin="miter"/>
<line x1="1585.6" y1="725.3" x2="1585.6" y2="718.3" stroke="#004080" stroke-width="3" stroke-linecap="butt" />
<line x1="1733.4" y1="760.8" x2="1733.4" y2="753.8" stroke="#004080" stroke-width="3" stroke-linecap="butt" />
<line x1="1772.0" y1="802.0" x2="1772.0" y2="795.0" stroke="#004080" stroke-width="3" stroke-linecap="butt" />
<line x1="1807.5" y1="802.0" x2="1807.5" y2="795.0" stroke="#004080" stroke-width="3" stroke-linecap="butt" />
<line x1="1832.6" y1="802.0" x2="1832.6" y2="795.0" stroke="#004080" stroke-width="3" stroke-linecap="butt" />
<line x1="1461.8" y1="666.5" x2="1461.8" y2="1017.1" stroke="#000" stroke-width="3.3" stroke-linecap="butt" />
<line x1="1448.3" y1="1005.2" x2="1977.4" y2="1005.2" stroke="#000" stroke-width="3.3" stroke-linecap="butt" />
<line x1="1448.3" y1="698.0" x2="1461.8" y2="698.0" stroke="#000" stroke-width="3.3" stroke-linecap="butt" />
<line x1="1448.3" y1="774.7" x2="1461.8" y2="774.7" stroke="#000" stroke-width="3.3" stroke-linecap="butt" />
<line x1="1448.3" y1="851.4" x2="1461.8" y2="851.4" stroke="#000" stroke-width="3.3" stroke-linecap="butt" />
<line x1="1448.3" y1="928.5" x2="1461.8" y2="928.5" stroke="#000" stroke-width="3.3" stroke-linecap="butt" />
<line x1="1564.6" y1="1005.2" x2="1564.6" y2="1017.1" stroke="#000" stroke-width="3.3" stroke-linecap="butt" />
<line x1="1667.5" y1="1005.2" x2="1667.5" y2="1017.1" stroke="#000" stroke-width="3.3" stroke-linecap="butt" />
<line x1="1770.3" y1="1005.2" x2="1770.3" y2="1017.1" stroke="#000" stroke-width="3.3" stroke-linecap="butt" />
<line x1="1873.1" y1="1005.2" x2="1873.1" y2="1017.1" stroke="#000" stroke-width="3.3" stroke-linecap="butt" />
<line x1="1975.9" y1="1005.2" x2="1975.9" y2="1017.1" stroke="#000" stroke-width="3.3" stroke-linecap="butt" />
<text x="1435.0" y="712.2" text-anchor="end" font-size="31.5" fill="#000" >100</text>
<text x="1435.0" y="787.0" text-anchor="end" font-size="31.5" fill="#000" >75</text>
<text x="1435.0" y="861.9" text-anchor="end" font-size="31.5" fill="#000" >50</text>
<text x="1435.0" y="938.6" text-anchor="end" font-size="31.5" fill="#000" >25</text>
<text x="1435.0" y="1011.5" text-anchor="end" font-size="31.5" fill="#000" >0</text>
<text x="1465.2" y="1055.7" text-anchor="middle" font-size="30" fill="#000" >0</text>
<text x="1568.1" y="1055.7" text-anchor="middle" font-size="30" fill="#000" >50</text>
<text x="1663.5" y="1055.7" text-anchor="middle" font-size="30" fill="#000" >100</text>
<text x="1766.4" y="1055.7" text-anchor="middle" font-size="30" fill="#000" >150</text>
<text x="1868.1" y="1055.7" text-anchor="middle" font-size="30" fill="#000" >200</text>
<text x="1970.3" y="1055.7" text-anchor="middle" font-size="30" fill="#000" >250</text>
<text x="1678.5" y="1103.0" text-anchor="middle" font-size="30.4" fill="#000" >Time (months)</text>
<text x="1477.6" y="852.5" text-anchor="start" font-size="26.8" fill="#000" >HR=3.320;</text>
<text x="1477.6" y="885.1" text-anchor="start" font-size="26.7" fill="#000" >95 % CI 1.201 – 9.175</text>
<text x="1477.6" y="917.2" text-anchor="start" font-size="26.8" fill="#000" >p=0.03</text>
<rect x="1468.1" y="936.7" width="33.3" height="33.2" fill="#f94040" stroke="none" stroke-width="0" rx="4" />
<rect x="1468.1" y="969.4" width="33.3" height="33.0" fill="#004080" stroke="none" stroke-width="0" rx="4" />
<text x="1572.0" y="962.1" text-anchor="middle" font-size="30.6" fill="#000" >High AEA</text>
<text x="1687.2" y="962.1" text-anchor="middle" font-size="31" fill="#000" >(n=17)</text>
<text x="1570.1" y="995.4" text-anchor="middle" font-size="30.6" fill="#000" >Low AEA</text>
<text x="1691.3" y="995.4" text-anchor="middle" font-size="31" fill="#000" >(n=11)</text>
<text x="1425.6" y="1120.0" text-anchor="end" font-size="30.2" font-weight="bold" fill="#000" >No. at risk</text>
<text x="1425.8" y="1152.6" text-anchor="end" font-size="30.5" fill="#000" >High FAAH</text>
<text x="1425.8" y="1182.6" text-anchor="end" font-size="30.5" fill="#000" >Low FAAH</text>
<text x="1462.0" y="1148.9" text-anchor="middle" font-size="30.3" fill="#808080" >17</text>
<text x="1565.2" y="1151.9" text-anchor="middle" font-size="30.3" fill="#808080" >14</text>
<text x="1669.7" y="1151.9" text-anchor="middle" font-size="30.3" fill="#808080" >7</text>
<text x="1771.8" y="1151.9" text-anchor="middle" font-size="30.3" fill="#808080" >7</text>
<text x="1876.2" y="1150.0" text-anchor="middle" font-size="30.3" fill="#808080" >4</text>
<text x="1969.8" y="1150.0" text-anchor="middle" font-size="30.3" fill="#808080" >0</text>
<text x="1462.2" y="1180.0" text-anchor="middle" font-size="30.3" fill="#808080" >11</text>
<text x="1566.0" y="1182.6" text-anchor="middle" font-size="30.3" fill="#808080" >11</text>
<text x="1670.4" y="1182.6" text-anchor="middle" font-size="30.3" fill="#808080" >8</text>
<text x="1771.8" y="1182.6" text-anchor="middle" font-size="30.3" fill="#808080" >4</text>
<text x="1879.2" y="1180.0" text-anchor="middle" font-size="30.3" fill="#808080" >2</text>
<text x="1969.8" y="1184.5" text-anchor="middle" font-size="30.3" fill="#808080" >0</text>
</g>
<g id="panel-f">
<text x="2.0" y="1274.1" text-anchor="start" font-size="30" font-weight="bold" fill="#000" >f</text>
<rect x="182.0" y="1250.1" width="1660.2" height="82.7" fill="url(#gr)" stroke="none" stroke-width="0" rx="11" />
<rect x="182.0" y="1655.1" width="1660.2" height="110.0" fill="url(#gr)" stroke="none" stroke-width="0" rx="11" />
<text x="309.6" y="1305.2" text-anchor="middle" font-size="30" fill="#000" >Luminal-like</text>
<text x="1032.1" y="1307.7" text-anchor="middle" font-size="30" fill="#000" >TUMOR PHENOTYPE</text>
<text x="1718.0" y="1305.2" text-anchor="middle" font-size="30" fill="#000" >Basal-like</text>
<text x="265.9" y="1707.7" text-anchor="middle" font-size="30" fill="#000" >Good</text>
<text x="1038.8" y="1711.2" text-anchor="middle" font-size="30" fill="#000" >PATIENT PROGNOSIS</text>
<text x="1725.1" y="1707.7" text-anchor="middle" font-size="30" fill="#000" >Poor</text>
<text x="285.5" y="1548.2" text-anchor="middle" font-size="30" fill="#000" >Metastasis</text>
<g stroke="#d40000" stroke-width="9.6" fill="none"><ellipse cx="283.2" cy="1538.4" rx="34.5" ry="35.4"/><line x1="258.6" y1="1563" x2="307.8" y2="1513.8"/></g>
<line x1="473.5" y1="1535.7" x2="386.6" y2="1535.7" stroke="#000" stroke-width="4.4" stroke-linecap="butt" />
<path d="M408.1,1521.7 L384.6,1535.7 L408.1,1549.7" stroke="#000" stroke-width="4.4" fill="none" stroke-linecap="round" stroke-linejoin="miter"/>
<rect x="507.2" y="1421.7" width="278.7" height="194.9" fill="#cfdff0" stroke="#8eabd6" stroke-width="4" rx="30" />
<circle cx="701.7" cy="1540.0" r="41.3" fill="#8fb0d9" stroke="none" stroke-width="0" />
<path d="M661.1,1423.1 L677.8,1390.4 A30.2,30.2 0 1 1 644.4,1390.4 Z" stroke="none" stroke-width="0" fill="#bf9000" />
<path d="M677.8,1390.4 A30.2,30.2 0 1 1 644.4,1390.4" stroke="#7f6000" stroke-width="4" fill="none" stroke-linecap="butt"/>
<path d="M732.9,1423.1 L749.6,1390.4 A30.2,30.2 0 1 1 716.2,1390.4 Z" stroke="none" stroke-width="0" fill="#bf9000" />
<path d="M749.6,1390.4 A30.2,30.2 0 1 1 716.2,1390.4" stroke="#7f6000" stroke-width="4" fill="none" stroke-linecap="butt"/>
<path d="M791.7,1478.6 L824.4,1495.3 A30.2,30.2 0 1 1 824.4,1461.9 Z" stroke="none" stroke-width="0" fill="#bf9000" />
<path d="M824.4,1495.3 A30.2,30.2 0 1 1 824.4,1461.9" stroke="#7f6000" stroke-width="4" fill="none" stroke-linecap="butt"/>
<path d="M791.7,1557.5 L824.4,1574.2 A30.2,30.2 0 1 1 824.4,1540.8 Z" stroke="none" stroke-width="0" fill="#bf9000" />
<path d="M824.4,1574.2 A30.2,30.2 0 1 1 824.4,1540.8" stroke="#7f6000" stroke-width="4" fill="none" stroke-linecap="butt"/>
<path d="M734.6,1616.5 L717.9,1649.2 A30.2,30.2 0 1 1 751.3,1649.2 Z" stroke="none" stroke-width="0" fill="#bf9000" />
<path d="M717.9,1649.2 A30.2,30.2 0 1 1 751.3,1649.2" stroke="#7f6000" stroke-width="4" fill="none" stroke-linecap="butt"/>
<g transform="translate(569.5,1416.6) rotate(0)" fill="#4472c4" stroke="none">
<rect x="-37.80" y="-23.5" width="10.03" height="47.0" rx="2.2"/>
<rect x="-26.87" y="-23.5" width="10.03" height="47.0" rx="2.2"/>
<rect x="-15.94" y="-23.5" width="10.03" height="47.0" rx="2.2"/>
<rect x="-5.01" y="-23.5" width="10.03" height="47.0" rx="2.2"/>
<rect x="5.91" y="-23.5" width="10.03" height="47.0" rx="2.2"/>
<rect x="16.84" y="-23.5" width="10.03" height="47.0" rx="2.2"/>
<rect x="27.77" y="-23.5" width="10.03" height="47.0" rx="2.2"/>
<g fill="none" stroke="#4472c4" stroke-width="4.5" stroke-linecap="round">
<path d="M-24.6,-18.5 V-22.0 A8.2,8.6 0 0 1 -8.2,-22.0 V-18.5"/>
<path d="M-2.8,-18.5 V-22.0 A8.2,8.6 0 0 1 13.7,-22.0 V-18.5"/>
<path d="M19.1,-18.5 V-22.0 A8.2,8.6 0 0 1 35.5,-22.0 V-18.5"/>
<path d="M-35.5,18.5 V22.0 A8.2,8.6 0 0 0 -19.1,22.0 V18.5"/>
<path d="M-13.7,18.5 V22.0 A8.2,8.6 0 0 0 2.8,22.0 V18.5"/>
<path d="M8.2,18.5 V22.0 A8.2,8.6 0 0 0 24.6,22.0 V18.5"/>
<path d="M-35.5,-18.5 V-24.5 C-35.5,-32.5 -30.5,-39.0 -21.2,-42.1" stroke-linecap="butt"/>
<path d="M35.5,18.5 V20.5 C40.0,24.5 39.5,30.5 34.0,35.0" stroke-linecap="butt"/>
</g></g>
<text x="573.0" y="1366.7" text-anchor="middle" font-size="30" fill="#000" >CBR</text>
<polygon points="622.8,1468.4 666.6,1467.9 648.8,1501.6" fill="none" stroke="#000" stroke-width="3.8" stroke-dasharray="3.9 4.1" stroke-linejoin="miter"/>
<polygon points="608.8,1489.0 640.5,1509.2 604.8,1534.0" fill="none" stroke="#000" stroke-width="3.8" stroke-dasharray="3.9 4.1" stroke-linejoin="miter"/>
<line x1="779.0" y1="1480.8" x2="686.1" y2="1480.8" stroke="#000" stroke-width="4.5" stroke-linecap="butt" />
<path d="M709.5,1465.7 L684.1,1480.8 L709.5,1495.9" stroke="#000" stroke-width="4.5" fill="none" stroke-linecap="round" stroke-linejoin="miter"/>
<polygon points="800.0,1478.8 837.0,1460.2 837.0,1497.6" fill="#fff" stroke="#fff" stroke-width="9" stroke-linejoin="miter"/>
<polygon points="800.0,1478.8 837.0,1460.2 837.0,1497.6" fill="#7f7f7f" stroke="#000" stroke-width="3.6" stroke-linejoin="miter"/>
<text x="644.4" y="1568.3" text-anchor="middle" font-size="30" fill="#000" >AEA degradation</text>
<text x="853.2" y="1439.6" text-anchor="middle" font-size="30" fill="#000" >FAAH</text>
<text x="992.0" y="1396.8" text-anchor="middle" font-size="30" fill="#000" >AEA</text>
<polygon points="990.6,1411.5 967.0,1438.0 1006.3,1448.2" fill="#7f7f7f" stroke="#000" stroke-width="3.6" stroke-linejoin="miter"/>
<path d="M986.7,1473 C982,1508 935,1545 881,1523.4" stroke="#000" stroke-width="4" fill="none" stroke-linecap="round"/>
<path d="M911.5,1516.9 L879.3,1522.4 L900.5,1546.5" stroke="#000" stroke-width="4" fill="none" stroke-linecap="round" stroke-linejoin="miter"/>
<path d="M992.2,1472 C997,1508 1044,1545 1098,1523.4" stroke="#000" stroke-width="4" fill="none" stroke-linecap="round"/>
<path d="M1066.7,1516.9 L1099.9,1522.4 L1077.4,1546.5" stroke="#000" stroke-width="4" fill="none" stroke-linecap="round" stroke-linejoin="miter"/>
<path d="M1129.2,1583.8 C1190,1578 1215,1535 1245,1505 C1262,1488 1276,1483.5 1292,1483.5 C1320,1483.5 1345,1500 1398,1522.4 C1420,1527 1450,1522 1474.8,1529.4 C1478,1540 1440,1555 1402,1571.7 C1370,1588 1345,1600 1321.7,1604 C1300,1608 1280,1609.5 1261,1609 C1230,1608 1205,1603 1186.7,1598 C1165,1592 1140,1590 1129.2,1583.8 Z" stroke="#d45c5c" stroke-width="3" fill="#e58686" stroke-linejoin="round"/>
<circle cx="1303.5" cy="1547.6" r="34.3" fill="#d45c5f" stroke="none" stroke-width="0" />
<polygon points="1160.5,1393.0 1198.5,1377.5 1188.0,1417.0" fill="#7f7f7f" stroke="#000" stroke-width="3.6" stroke-linejoin="miter"/>
<polygon points="1240.6,1358.5 1223.5,1390.3 1265.0,1392.6" fill="#7f7f7f" stroke="#000" stroke-width="3.6" stroke-linejoin="miter"/>
<polygon points="1126.0,1433.0 1162.0,1441.0 1136.6,1472.5" fill="#7f7f7f" stroke="#000" stroke-width="3.6" stroke-linejoin="miter"/>
<polygon points="1178.7,1433.5 1215.6,1435.3 1194.9,1470.5" fill="#7f7f7f" stroke="#000" stroke-width="3.6" stroke-linejoin="miter"/>
<polygon points="1163.8,1483.5 1140.5,1507.9 1178.5,1520.5" fill="#7f7f7f" stroke="#000" stroke-width="3.6" stroke-linejoin="miter"/>
<g transform="translate(1217.0,1518.0) rotate(-43)" fill="#4472c4" stroke="none">
<rect x="-37.80" y="-23.5" width="10.03" height="47.0" rx="2.2"/>
<rect x="-26.87" y="-23.5" width="10.03" height="47.0" rx="2.2"/>
<rect x="-15.94" y="-23.5" width="10.03" height="47.0" rx="2.2"/>
<rect x="-5.01" y="-23.5" width="10.03" height="47.0" rx="2.2"/>
<rect x="5.91" y="-23.5" width="10.03" height="47.0" rx="2.2"/>
<rect x="16.84" y="-23.5" width="10.03" height="47.0" rx="2.2"/>
<rect x="27.77" y="-23.5" width="10.03" height="47.0" rx="2.2"/>
<g fill="none" stroke="#4472c4" stroke-width="4.5" stroke-linecap="round">
<path d="M-24.6,-18.5 V-22.0 A8.2,8.6 0 0 1 -8.2,-22.0 V-18.5"/>
<path d="M-2.8,-18.5 V-22.0 A8.2,8.6 0 0 1 13.7,-22.0 V-18.5"/>
<path d="M19.1,-18.5 V-22.0 A8.2,8.6 0 0 1 35.5,-22.0 V-18.5"/>
<path d="M-35.5,18.5 V22.0 A8.2,8.6 0 0 0 -19.1,22.0 V18.5"/>
<path d="M-13.7,18.5 V22.0 A8.2,8.6 0 0 0 2.8,22.0 V18.5"/>
<path d="M8.2,18.5 V22.0 A8.2,8.6 0 0 0 24.6,22.0 V18.5"/>
<path d="M35.5,18.5 V20.5 C40.0,24.5 39.5,30.5 34.0,35.0" stroke-linecap="butt"/>
</g></g>
<polygon points="1163.8,1483.5 1140.5,1507.9 1178.5,1520.5" fill="#7f7f7f" stroke="#000" stroke-width="3.6" stroke-linejoin="miter"/>
<g transform="translate(1365.9,1498.0) rotate(23)" fill="#00b050" stroke="none">
<rect x="-37.80" y="-23.5" width="10.03" height="47.0" rx="2.2"/>
<rect x="-26.87" y="-23.5" width="10.03" height="47.0" rx="2.2"/>
<rect x="-15.94" y="-23.5" width="10.03" height="47.0" rx="2.2"/>
<rect x="-5.01" y="-23.5" width="10.03" height="47.0" rx="2.2"/>
<rect x="5.91" y="-23.5" width="10.03" height="47.0" rx="2.2"/>
<rect x="16.84" y="-23.5" width="10.03" height="47.0" rx="2.2"/>
<rect x="27.77" y="-23.5" width="10.03" height="47.0" rx="2.2"/>
<g fill="none" stroke="#00b050" stroke-width="4.5" stroke-linecap="round">
<path d="M-24.6,-18.5 V-22.0 A8.2,8.6 0 0 1 -8.2,-22.0 V-18.5"/>
<path d="M-2.8,-18.5 V-22.0 A8.2,8.6 0 0 1 13.7,-22.0 V-18.5"/>
<path d="M19.1,-18.5 V-22.0 A8.2,8.6 0 0 1 35.5,-22.0 V-18.5"/>
<path d="M-35.5,18.5 V22.0 A8.2,8.6 0 0 0 -19.1,22.0 V18.5"/>
<path d="M-13.7,18.5 V22.0 A8.2,8.6 0 0 0 2.8,22.0 V18.5"/>
<path d="M8.2,18.5 V22.0 A8.2,8.6 0 0 0 24.6,22.0 V18.5"/>
<path d="M-35.5,-18.5 V-24.5 C-35.5,-32.5 -30.5,-39.0 -21.2,-42.1" stroke-linecap="butt"/>
<path d="M35.5,18.5 V20.5 C40.0,24.5 39.5,30.5 34.0,35.0" stroke-linecap="butt"/>
</g></g>
<polygon points="1347.2,1419.8 1382.3,1432.9 1350.9,1460.6" fill="#99ff99" stroke="#548235" stroke-width="3.7" />
<circle cx="1229.2" cy="1479.6" r="19.1" fill="#ffff00" stroke="#000" stroke-width="3.6" stroke-dasharray="3.2 2.515"/>
<text x="1230.4" y="1510.3" text-anchor="middle" font-size="57" font-weight="bold" fill="#000" >*</text>
<circle cx="1405.5" cy="1480.1" r="19.1" fill="#ffff00" stroke="#000" stroke-width="3.6" stroke-dasharray="3.2 2.515"/>
<text x="1406.7" y="1510.8" text-anchor="middle" font-size="57" font-weight="bold" fill="#000" >*</text>
<path d="M1243.1,1539.5 C1262,1572 1318,1580 1345.8,1525.4" stroke="#000" stroke-width="4" fill="none" stroke-dasharray="12 5"/>
<path d="M1322.7,1546.5 L1345.8,1525.4 L1352.9,1556.6" stroke="#000" stroke-width="4" fill="none" stroke-linecap="round" stroke-linejoin="miter"/>
<path d="M1223.2,1605.8 L1189.1,1614.7 A30.2,30.2 0 1 1 1213.1,1639.6 Z" stroke="none" stroke-width="0" fill="#bf9000" />
<path d="M1189.1,1614.7 A30.2,30.2 0 1 1 1213.1,1639.6" stroke="#7f6000" stroke-width="4" fill="none" stroke-linecap="butt"/>
<text x="1149.5" y="1559.7" text-anchor="middle" font-size="30" fill="#000" >CBR</text>
<text x="1437.5" y="1418.0" text-anchor="middle" font-size="30" fill="#000" >CXCL12</text>
<text x="1498.0" y="1489.2" text-anchor="middle" font-size="30" fill="#000" >CXCR4</text>
<line x1="1541.4" y1="1535.5" x2="1629.5" y2="1535.5" stroke="#000" stroke-width="4.5" stroke-linecap="butt" />
<path d="M1606.5,1550.3 L1631.5,1535.5 L1606.5,1520.7" stroke="#000" stroke-width="4.5" fill="none" stroke-linecap="round" stroke-linejoin="miter"/>
<rect x="1670.5" y="1501.3" width="171.4" height="65.2" fill="none" stroke="#000" stroke-width="4" rx="3" stroke-dasharray="4 4.35"/>
<text x="1757.4" y="1546.8" text-anchor="middle" font-size="30" fill="#000" >Metastasis</text>
</g>
</svg>
</body></html>
